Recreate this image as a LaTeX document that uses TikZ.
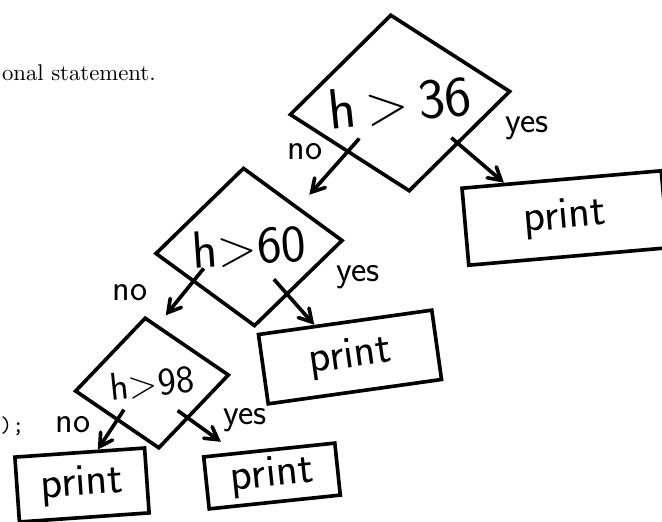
\documentclass[tikz,border=0pt]{standalone}
\usepackage{tikz}
\usetikzlibrary{shapes.geometric, arrows}
\tikzstyle{decision} = [diamond, draw=black, line width=1.6pt, inner sep=0pt, aspect=1.2]
\tikzstyle{process} = [rectangle, draw=black, line width=1.6pt, inner sep=0pt, font=\sffamily\fontsize{20}{22}\selectfont]
\tikzstyle{answer} = [inner sep=0pt, font=\sffamily\fontsize{16}{18}\selectfont]
\tikzstyle{arrow} = [line width=1.6pt,->,>=angle 60]

\begin{document}
\begin{tikzpicture}[x=0.44pt, y=-0.44pt]
                \useasboundingbox (0,0) rectangle (662,522);

% ---------------------------------------------
% page text behind the sketch
% ---------------------------------------------
                \node (txt1) [inner sep=0pt, anchor=base east] at (156,81) {onal statement.};
                \node (txt2) [inner sep=0pt, anchor=base west, font=\ttfamily] at (0,432) {);};

% ---------------------------------------------
% Decisions
% ---------------------------------------------
                \node (dec1) [decision, minimum width=97.7pt, minimum height=78.3pt, rotate=6, font=\sffamily\fontsize{25}{27}\selectfont] at (400,103) {h\,>\,36};

                \node (dec2) [decision, minimum width=82.7pt, minimum height=70pt, rotate=4, font=\sffamily\fontsize{23}{25}\selectfont] at (249,247) {h>60};

                \node (dec3) [decision, minimum width=68.2pt, minimum height=58pt, rotate=6, font=\sffamily\fontsize{17}{19}\selectfont] at (152,383) {h>98};

% ---------------------------------------------
% Print boxes
% ---------------------------------------------
                \node (prt1) [process, minimum width=88pt, minimum height=34pt, rotate=5] at (565,218) {print};

                \node (prt2) [process, minimum width=77pt, minimum height=30.8pt, rotate=8] at (350,357) {print};

                \node (prt3) [process, minimum width=57.2pt, minimum height=28.6pt, rotate=4] at (82,485) {print};

                \node (prt4) [process, minimum width=58pt, minimum height=23pt, rotate=6] at (272,476) {print};

% ---------------------------------------------
% All arrows
% ---------------------------------------------
                \draw [arrow, shorten <=-8.4pt, shorten >=7pt] (dec1.217) -- (dec2.35);
                \draw [arrow, shorten <=-4.4pt] (dec1.319) -- (prt1.145);
                \draw [arrow, shorten <=-7.9pt, shorten >=5.3pt] (dec2.208) -- (dec3.78);
                \draw [arrow, shorten <=-9.5pt] (dec2.305) -- (prt2.130);
                \draw [arrow, shorten <=-6pt] (dec3.221) -- (prt3.62);
                \draw [arrow, shorten <=-6.2pt, shorten >=7.5pt] (dec3.310) -- (prt4.141);

                % yes / no
                \node (no1) [answer] at (305,152) {no};
                \node (yes1) [answer] at (527,128) {yes};
                \node (no2) [answer] at (130,293) {no};
                \node (yes2) [answer] at (358,277) {yes};
                \node (no3) [answer] at (73,425) {no};
                \node (yes3) [answer] at (245,420) {yes};

\end{tikzpicture}
\end{document}
